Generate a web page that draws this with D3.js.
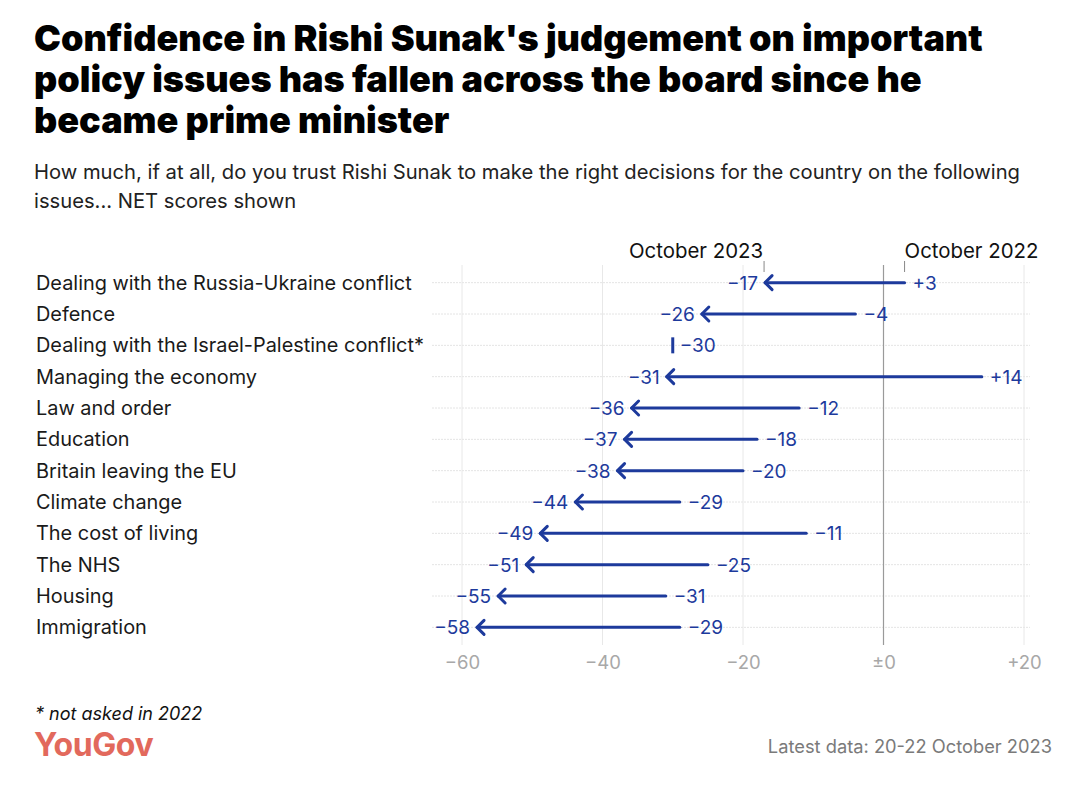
<!DOCTYPE html>
<html><head><meta charset="utf-8">
<script src="https://cdn.jsdelivr.net/npm/d3@7"></script>
<style>
body{margin:0;background:#fff;}
svg{display:block;font-family:Inter, "Open Sans", sans-serif;}
</style></head>
<body>
<svg id="c" width="1080" height="793"></svg>
<script>
const categories = ["Dealing with the Russia-Ukraine conflict","Defence","Dealing with the Israel-Palestine conflict*","Managing the economy","Law and order","Education","Britain leaving the EU","Climate change","The cost of living","The NHS","Housing","Immigration"];
const oct2022 = [3,-4,null,14,-12,-18,-20,-29,-11,-25,-31,-29];
const oct2023 = [-17,-26,-30,-31,-36,-37,-38,-44,-49,-51,-55,-58];
const tickValues = [-60,-40,-20,0,20];
const tickLabels = ["\u221260","\u221240","\u221220","\u00b10","+20"];

const svg = d3.select("#c");
const blue = "#1d3a9c";
const x = d3.scaleLinear().domain([-60,20]).range([462,1024]);
const y = d3.scaleBand().domain(categories).range([267,643]).paddingInner(0).paddingOuter(0);
const yc = d => y(d) + y.bandwidth()/2;
const fmt = v => v>0 ? "+"+v : (v<0 ? "\u2212"+Math.abs(v) : "\u00b10");

// title
const title = ["Confidence in Rishi Sunak's judgement on important","policy issues has fallen across the board since he","became prime minister"];
svg.append("g").selectAll("text").data(title).join("text")
  .attr("x",34).attr("y",(d,i)=>51+i*41)
  .attr("font-size",36).attr("font-weight",900).attr("fill","#000").attr("letter-spacing","0")
  .text(d=>d);
const sub = ["How much, if at all, do you trust Rishi Sunak to make the right decisions for the country on the following","issues... NET scores shown"];
svg.append("g").selectAll("text").data(sub).join("text")
  .attr("x",34).attr("y",(d,i)=>179+i*29)
  .attr("font-size",20.2).attr("fill","#222").attr("font-weight",400)
  .text(d=>d);

// horizontal dotted row lines
svg.append("g").selectAll("line").data(categories).join("line")
  .attr("x1",432).attr("x2",1030).attr("y1",d=>yc(d)).attr("y2",d=>yc(d))
  .attr("stroke","#e4e4e4").attr("stroke-width",1).attr("stroke-dasharray","2,1");

// vertical grid
svg.append("g").selectAll("line").data(tickValues).join("line")
  .attr("x1",d=>x(d)).attr("x2",d=>x(d)).attr("y1",265).attr("y2",645)
  .attr("stroke",d=>d===0?"#9a9a9a":"#e8e8e8").attr("stroke-width",d=>d===0?1.2:1);

// axis labels
const ax = d3.axisBottom(x).tickValues(tickValues).tickFormat((d,i)=>tickLabels[i]).tickSize(0).tickPadding(0);
const axg = svg.append("g").attr("transform","translate(0,669)").call(ax);
axg.select(".domain").remove();
axg.selectAll("text").attr("font-size",18.5).attr("fill","#a8a8a8").attr("font-family","Inter, sans-serif").attr("dy","0");

// category labels
svg.append("g").selectAll("text").data(categories).join("text")
  .attr("x",36).attr("y",d=>yc(d)).attr("dy","0.36em")
  .attr("font-size",19.9).attr("fill","#1a1a1a")
  .text(d=>d);

// series header labels
svg.append("line").attr("x1",x(oct2023[0])).attr("x2",x(oct2023[0])).attr("y1",261).attr("y2",272).attr("stroke","#888").attr("stroke-width",1);
svg.append("line").attr("x1",x(oct2022[0])).attr("x2",x(oct2022[0])).attr("y1",261).attr("y2",272).attr("stroke","#888").attr("stroke-width",1);
svg.append("text").attr("x",x(oct2023[0])-1).attr("y",258).attr("text-anchor","end").attr("font-size",20.4).attr("fill","#111").text("October 2023");
svg.append("text").attr("x",x(oct2022[0])).attr("y",258).attr("text-anchor","start").attr("font-size",20.4).attr("fill","#111").text("October 2022");

// arrows
const g = svg.append("g");
categories.forEach((c,i)=>{
  const v22 = oct2022[i], v23 = oct2023[i];
  const cy = yc(c);
  if (v22 === null) {
    g.append("line").attr("x1",x(v23)).attr("x2",x(v23)).attr("y1",cy-8).attr("y2",cy+8)
      .attr("stroke",blue).attr("stroke-width",3);
    g.append("text").attr("x",x(v23)+7).attr("y",cy).attr("dy","0.36em").attr("font-size",19).attr("fill",blue).text(fmt(v23));
    return;
  }
  g.append("line").attr("x1",x(v22)).attr("x2",x(v23)+1).attr("y1",cy).attr("y2",cy)
    .attr("stroke",blue).attr("stroke-width",3).attr("stroke-linecap","round");
  const tx = x(v23);
  g.append("path").attr("d",`M${tx+8},${cy-7}L${tx+1},${cy}L${tx+8},${cy+7}`)
    .attr("fill","none").attr("stroke",blue).attr("stroke-width",3).attr("stroke-linecap","round").attr("stroke-linejoin","round");
  g.append("text").attr("x",tx-6).attr("y",cy).attr("dy","0.36em").attr("text-anchor","end").attr("font-size",19).attr("fill",blue).text(fmt(v23));
  g.append("text").attr("x",x(v22)+8).attr("y",cy).attr("dy","0.36em").attr("text-anchor","start").attr("font-size",19).attr("fill",blue).text(fmt(v22));
});

// footer
svg.append("text").attr("x",35).attr("y",720).attr("font-size",18).attr("font-style","italic").attr("fill","#111").text("* not asked in 2022");
svg.append("text").attr("x",34).attr("y",756).attr("font-size",32).attr("font-weight",700).attr("fill","#e2695c").attr("letter-spacing","-0.4").text("YouGov");
svg.append("text").attr("x",1052).attr("y",753).attr("text-anchor","end").attr("font-size",18.3).attr("fill","#7a7a7a").text("Latest data: 20-22 October 2023");
</script>
</body></html>
